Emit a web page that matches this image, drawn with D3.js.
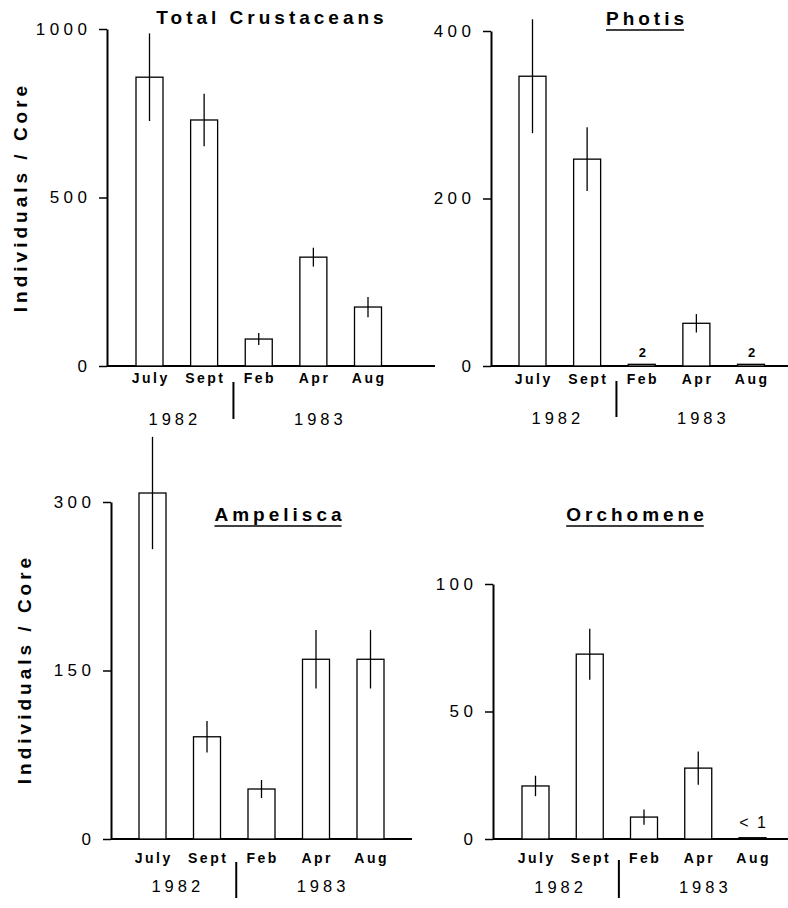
<!DOCTYPE html>
<html>
<head>
<meta charset="utf-8">
<script src="https://cdn.jsdelivr.net/npm/d3@7"></script>
<style>
  body { margin: 0; background: #fff; }
  svg { display: block; font-family: "Liberation Sans", Arial, Helvetica, sans-serif; }
</style>
</head>
<body>
<svg id="chart"></svg>
<script>
const months = ["July", "Sept", "Feb", "Apr", "Aug"];
const years = ["1982", "1983"];

// means and +/- error
const totalMeans = [857, 730, 80, 323, 175];
const totalErr = [130, 78, 18, 28, 30];
const totalTicks = [0, 500, 1000];

const photisMeans = [346, 247, 2, 51, 2];
const photisErr = [68, 38, 0, 11, 0];
const photisTicks = [0, 200, 400];
const photisNotes = ["", "", "2", "", "2"];

const ampeliscaMeans = [308, 91, 44.5, 160, 160];
const ampeliscaErr = [50, 14, 8, 26, 26];
const ampeliscaTicks = [0, 150, 300];

const orchomeneMeans = [20.8, 72.5, 8.6, 27.8, 0.5];
const orchomeneErr = [4, 10, 3, 6.5, 0];
const orchomeneTicks = [0, 50, 100];
const orchomeneNotes = ["", "", "", "", "< 1"];

const yLabel = "Individuals / Core";

const width = 788, height = 908;
const barWidth = 27;

const svg = d3.select("#chart")
    .attr("width", width)
    .attr("height", height);

const panels = [
    {title: "Total Crustaceans", underline: false, means: totalMeans, err: totalErr, ticks: totalTicks, notes: null, noteBold: true,
     axisX: 107, right: 435, y0: 366, yTop: 29, first: 149.5, last: 368,
     titleX: 270, titleY: 24, monthY: 383, yearY: 425, divTop: 382, divBot: 419, ylab: [20, 199]},
    {title: "Photis", underline: true, means: photisMeans, err: photisErr, ticks: photisTicks, notes: photisNotes, noteBold: true,
     axisX: 491, right: 788, y0: 366, yTop: 31, first: 532.5, last: 751,
     titleX: 645, titleY: 25, monthY: 384, yearY: 424, divTop: 381, divBot: 417, ylab: null},
    {title: "Ampelisca", underline: true, means: ampeliscaMeans, err: ampeliscaErr, ticks: ampeliscaTicks, notes: null, noteBold: true,
     axisX: 111, right: 412, y0: 839, yTop: 502, first: 152.5, last: 370.5,
     titleX: 278, titleY: 521, monthY: 863, yearY: 892, divTop: 862, divBot: 898, ylab: [24, 671]},
    {title: "Orchomene", underline: true, means: orchomeneMeans, err: orchomeneErr, ticks: orchomeneTicks, notes: orchomeneNotes, noteBold: false,
     axisX: 493, right: 788, y0: 839, yTop: 584, first: 535.5, last: 752.5,
     titleX: 635, titleY: 521, monthY: 863, yearY: 893, divTop: 860, divBot: 898, ylab: null}
];

panels.forEach(p => drawPanel(p));

function drawPanel(p) {
    const g = svg.append("g");

    const x = d3.scalePoint()
        .domain(months)
        .range([p.first, p.last]);

    const y = d3.scaleLinear()
        .domain([0, d3.max(p.ticks)])
        .range([p.y0, p.yTop]);

    // y axis
    const yAxis = d3.axisLeft(y)
        .tickValues(p.ticks)
        .tickSize(8)
        .tickSizeOuter(0)
        .tickPadding(12)
        .tickFormat(d3.format("d"));

    const ya = g.append("g")
        .attr("transform", `translate(${p.axisX},0)`)
        .call(yAxis);
    ya.select(".domain").attr("stroke-width", 2);
    ya.selectAll(".tick line").attr("stroke-width", 1.5);
    ya.selectAll(".tick text")
        .attr("font-size", 17)
        .attr("letter-spacing", 4.5)
        .attr("dx", 4.5)
        .attr("fill", "#000")
        .style("font-family", "'Liberation Sans', Arial, sans-serif");

    // baseline
    g.append("line")
        .attr("x1", p.axisX).attr("x2", p.right)
        .attr("y1", y(0)).attr("y2", y(0))
        .attr("stroke", "#000")
        .attr("stroke-width", 2);

    const data = months.map((m, i) => ({month: m, mean: p.means[i], err: p.err[i], note: p.notes ? p.notes[i] : ""}));

    // bars
    g.selectAll("rect.bar")
        .data(data)
        .enter()
        .append("rect")
        .attr("class", "bar")
        .attr("x", d => x(d.month) - barWidth / 2)
        .attr("y", d => y(d.mean))
        .attr("width", barWidth)
        .attr("height", d => y(0) - y(d.mean))
        .attr("fill", "#fff")
        .attr("stroke", "#000")
        .attr("stroke-width", 1.3);

    // error bars
    g.selectAll("line.err")
        .data(data.filter(d => d.err > 0))
        .enter()
        .append("line")
        .attr("class", "err")
        .attr("x1", d => x(d.month)).attr("x2", d => x(d.month))
        .attr("y1", d => y(d.mean + d.err))
        .attr("y2", d => y(d.mean - d.err))
        .attr("stroke", "#000")
        .attr("stroke-width", 1.3);

    // small value notes
    g.selectAll("text.note")
        .data(data.filter(d => d.note))
        .enter()
        .append("text")
        .attr("class", "note")
        .attr("x", d => x(d.month) + 1)
        .attr("y", d => y(d.mean) - (p.noteBold ? 7 : 10))
        .attr("text-anchor", "middle")
        .attr("font-size", p.noteBold ? 13 : 16)
        .attr("font-weight", p.noteBold ? "bold" : "normal")
        .attr("letter-spacing", p.noteBold ? 1 : 2)
        .text(d => d.note);

    // month labels
    g.selectAll("text.month")
        .data(months)
        .enter()
        .append("text")
        .attr("class", "month")
        .attr("x", d => x(d) + 1.2)
        .attr("y", p.monthY)
        .attr("text-anchor", "middle")
        .attr("font-size", 14)
        .attr("font-weight", "bold")
        .attr("letter-spacing", 2.5)
        .text(d => d);

    // year labels and divider
    const mid1 = (x("July") + x("Sept")) / 2 - 4;
    const mid2 = x("Apr") + 5;
    g.selectAll("text.year")
        .data(years)
        .enter()
        .append("text")
        .attr("class", "year")
        .attr("x", (d, i) => (i === 0 ? mid1 : mid2) + 2)
        .attr("y", p.yearY)
        .attr("text-anchor", "middle")
        .attr("font-size", 16.5)
        .attr("letter-spacing", 4)
        .text(d => d);

    const divX = (x("Sept") + x("Feb")) / 2 + 2;
    g.append("line")
        .attr("x1", divX).attr("x2", divX)
        .attr("y1", p.divTop).attr("y2", p.divBot)
        .attr("stroke", "#000")
        .attr("stroke-width", 2);

    // title
    const title = g.append("text")
        .attr("x", p.titleX + 2)
        .attr("y", p.titleY)
        .attr("text-anchor", "middle")
        .attr("font-size", 19)
        .attr("font-weight", "bold")
        .attr("letter-spacing", 4)
        .text(p.title);

    if (p.underline) {
        const bb = title.node().getBBox();
        g.append("line")
            .attr("x1", bb.x).attr("x2", bb.x + bb.width - 4)
            .attr("y1", p.titleY + 5).attr("y2", p.titleY + 5)
            .attr("stroke", "#000")
            .attr("stroke-width", 1.5);
    }

    // y label
    if (p.ylab) {
        g.append("text")
            .attr("transform", `translate(${p.ylab[0] + 7},${p.ylab[1]}) rotate(-90)`)
            .attr("text-anchor", "middle")
            .attr("dx", 2)
            .attr("font-size", 19)
            .attr("font-weight", "bold")
            .attr("letter-spacing", 4)
            .text(yLabel);
    }
}
</script>
</body>
</html>
